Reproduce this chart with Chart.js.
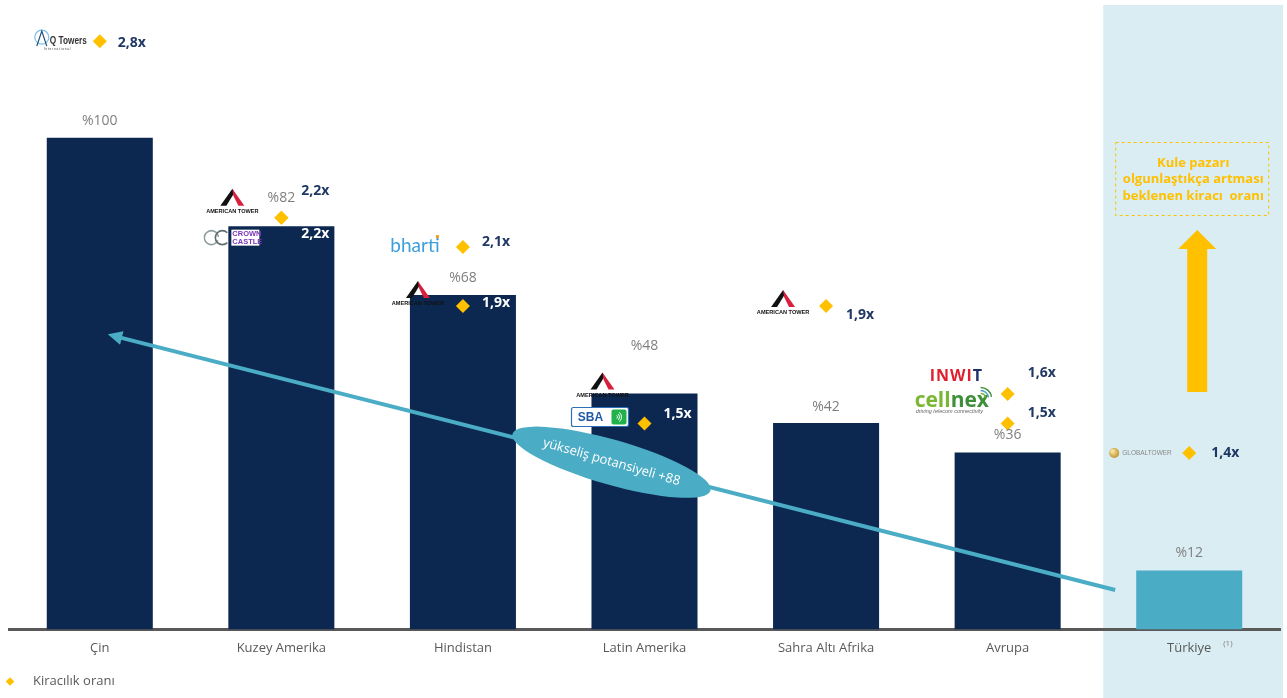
<!DOCTYPE html>
<html>
<head>
<meta charset="utf-8">
<script src="https://cdn.jsdelivr.net/npm/chart.js@4.4.1/dist/chart.umd.min.js"></script>
<style>
html, body { margin: 0; padding: 0; background: #ffffff; }
#wrap { width: 1287px; height: 698px; position: relative; }
</style>
</head>
<body>
<div id="wrap"><canvas id="chart"></canvas></div>
<script>
"use strict";

// kule pazari payi (Cin = %100)
const categories = ['Çin', 'Kuzey Amerika', 'Hindistan', 'Latin Amerika', 'Sahra Altı Afrika', 'Avrupa', 'Türkiye'];
const shareValues = [100, 82, 68, 48, 42, 36, 12];
const shareLabels = ['%100', '%82', '%68', '%48', '%42', '%36', '%12'];

// kiracilik orani per operator
const ratioRegions = ['Çin', 'Kuzey Amerika', 'Kuzey Amerika', 'Hindistan', 'Hindistan', 'Latin Amerika', 'Sahra Altı Afrika', 'Avrupa', 'Avrupa', 'Türkiye'];
const ratioValues = [2.8, 2.2, 2.2, 2.1, 1.9, 1.5, 1.9, 1.6, 1.5, 1.4];
const ratioLabels = ['2,8x', '2,2x', '2,2x', '2,1x', '1,9x', '1,5x', '1,9x', '1,6x', '1,5x', '1,4x'];

const potentialFrom = 12;
const potentialTo = 100;
const potentialText = 'yükseliş potansiyeli +88';
const noteLines = ['Kule pazarı', 'olgunlaştıkça artması', 'beklenen kiracı  oranı'];

const NAVY = '#0c2851';
const TEAL = '#4bacc6';
const GOLD = '#ffc000';
const FONT = "'Open Sans', 'Liberation Sans', sans-serif";

// label placement for each ratio point: dx, dy from the diamond, white if on a bar
const ratioLabelPlace = [
    [18, 2, false], [20, -27, false], [20, 16, true], [19, -5, false], [19, -3, true],
    [19, -10, true], [20, 9, false], [20, -21, false], [20, -11, false], [22, 0, false]
];
// offsets of the share labels above the bar tops
const shareLabelGap = [17, 28, 17, 47, 16, 17, 17];

function drawQTowers(ctx, cx, cy) {
    ctx.strokeStyle = '#7cc0e6';
    ctx.lineWidth = 1.2;
    ctx.beginPath();
    ctx.arc(cx - 19, cy - 3, 7, 0, Math.PI * 2);
    ctx.stroke();
    ctx.strokeStyle = '#1f4e79';
    ctx.beginPath();
    ctx.moveTo(cx - 24, cy + 6); ctx.lineTo(cx - 19, cy - 9); ctx.lineTo(cx - 14, cy + 6);
    ctx.stroke();
    ctx.translate(cx - 11, cy + 1);
    ctx.scale(0.75, 1);
    ctx.fillStyle = '#333333';
    ctx.font = "bold 11px 'Liberation Sans', sans-serif";
    ctx.textAlign = 'left';
    ctx.textBaseline = 'middle';
    ctx.fillText('Q Towers', 0, 0);
    ctx.font = "4px 'Liberation Sans', sans-serif";
    ctx.fillText('I n t e r n a t i o n a l', -8, 8);
}

function drawAmericanTower(ctx, cx, cy) {
    ctx.fillStyle = '#111111';
    ctx.beginPath();
    ctx.moveTo(cx - 12, cy + 8); ctx.lineTo(cx, cy - 9); ctx.lineTo(cx + 2, cy - 5); ctx.lineTo(cx - 6, cy + 8);
    ctx.closePath(); ctx.fill();
    ctx.fillStyle = '#d6203d';
    ctx.beginPath();
    ctx.moveTo(cx, cy - 9); ctx.lineTo(cx + 12, cy + 8); ctx.lineTo(cx + 6, cy + 8); ctx.lineTo(cx + 1, cy - 2);
    ctx.closePath(); ctx.fill();
    ctx.fillStyle = '#111111';
    ctx.font = "bold 5.6px 'Liberation Sans', sans-serif";
    ctx.textAlign = 'center';
    ctx.textBaseline = 'middle';
    ctx.fillText('AMERICAN TOWER', cx, cy + 14);
}

function drawCrownCastle(ctx, cx, cy) {
    ctx.lineWidth = 1.6;
    ctx.strokeStyle = '#8e9d9d';
    ctx.beginPath(); ctx.arc(cx - 20, cy, 7, 0.4, Math.PI * 2 - 0.1); ctx.stroke();
    ctx.strokeStyle = '#5f6f70';
    ctx.beginPath(); ctx.arc(cx - 9, cy, 7, Math.PI * 0.25, Math.PI * 1.75); ctx.stroke();
    ctx.fillStyle = '#ffffff';
    ctx.fillRect(cx, cy - 8, 28, 16);
    ctx.fillStyle = '#7a35b8';
    ctx.font = "bold 7.5px 'Liberation Sans', sans-serif";
    ctx.textAlign = 'left';
    ctx.textBaseline = 'middle';
    ctx.fillText('CROWN', cx + 1, cy - 3.5);
    ctx.fillText('CASTLE', cx + 1, cy + 4);
}

function drawBharti(ctx, cx, cy) {
    ctx.fillStyle = '#3c9fdc';
    ctx.font = "19px 'Lato', 'Open Sans', sans-serif";
    ctx.textAlign = 'center';
    ctx.textBaseline = 'middle';
    ctx.fillText('bharti', cx, cy);
    ctx.fillStyle = '#f39c1f';
    ctx.fillRect(cx + 21, cy - 11, 3, 3);
}

function drawSBA(ctx, cx, cy) {
    ctx.fillStyle = '#ffffff';
    ctx.strokeStyle = '#2f6fb5';
    ctx.lineWidth = 1.2;
    ctx.beginPath();
    ctx.roundRect(cx - 28, cy - 9, 57, 19, 2);
    ctx.fill(); ctx.stroke();
    ctx.fillStyle = '#1f5aa6';
    ctx.font = "bold 12px 'Liberation Sans', sans-serif";
    ctx.textAlign = 'center';
    ctx.textBaseline = 'middle';
    ctx.fillText('SBA', cx - 9, cy + 1);
    ctx.fillStyle = '#22b24c';
    ctx.beginPath();
    ctx.roundRect(cx + 12, cy - 7, 15, 15, 2);
    ctx.fill();
    ctx.strokeStyle = '#ffffff';
    ctx.lineWidth = 1;
    for (let r = 2; r <= 6; r += 2) {
        ctx.beginPath();
        ctx.arc(cx + 16, cy + 0.5, r, -0.9, 0.9);
        ctx.stroke();
    }
}

function drawInwit(ctx, cx, cy) {
    ctx.font = "bold 16px 'Open Sans', sans-serif";
    ctx.textAlign = 'left';
    ctx.textBaseline = 'middle';
    ctx.letterSpacing = '1px';
    ctx.fillStyle = '#e01f2d';
    const w = ctx.measureText('INWI').width;
    ctx.fillText('INWI', cx - 27, cy);
    ctx.fillStyle = '#1f2f6b';
    ctx.fillText('T', cx - 27 + w, cy);
}

function drawCellnex(ctx, cx, cy) {
    ctx.font = "bold 21px 'Open Sans', sans-serif";
    ctx.textAlign = 'left';
    ctx.textBaseline = 'middle';
    ctx.fillStyle = '#7ab833';
    const w = ctx.measureText('cell').width;
    ctx.fillText('cell', cx - 40, cy);
    ctx.fillStyle = '#3f8f3a';
    ctx.fillText('nex', cx - 40 + w, cy);
    ctx.lineWidth = 1.4;
    const arcs = ['#7ab833', '#45a0c8', '#3f8f3a'];
    for (let i = 0; i < 3; i++) {
        ctx.strokeStyle = arcs[i];
        ctx.beginPath();
        ctx.arc(cx + 26, cy - 2, 5 + i * 3, -Math.PI * 0.5, -Math.PI * 0.05);
        ctx.stroke();
    }
    ctx.fillStyle = '#666666';
    ctx.font = "italic 5.5px 'Liberation Sans', sans-serif";
    ctx.fillText('driving telecom connectivity', cx - 39, cy + 11);
}

function drawGlobalTower(ctx, cx, cy) {
    const g = ctx.createRadialGradient(cx - 27, cy - 2, 1, cx - 25, cy, 6);
    g.addColorStop(0, '#f7e3a0');
    g.addColorStop(1, '#b88a22');
    ctx.fillStyle = g;
    ctx.beginPath(); ctx.arc(cx - 25, cy, 5, 0, Math.PI * 2); ctx.fill();
    ctx.fillStyle = '#8a8a8a';
    ctx.font = "6.5px 'Liberation Sans', sans-serif";
    ctx.textAlign = 'left';
    ctx.textBaseline = 'middle';
    ctx.fillText('GLOBALTOWER', cx - 17, cy + 0.5);
}

// logo, ratio point it belongs to, offset from that diamond
const logos = [
    [drawQTowers, 0, -39, -1],
    [drawAmericanTower, 1, -49, -20],
    [drawCrownCastle, 2, -50, 20],
    [drawBharti, 3, -48, -1],
    [drawAmericanTower, 4, -45, -16],
    [drawAmericanTower, 5, -42, -42],
    [drawSBA, 5, -45, -7],
    [drawAmericanTower, 6, -43, -7],
    [drawInwit, 7, -51, -18],
    [drawCellnex, 8, -53, -23],
    [drawGlobalTower, 9, -50, 0]
];

const decorPlugin = {
    id: 'decor',
    afterLayout(chart) {
        // pull the legend to the left edge
        chart.legend.left = -1;
    },
    beforeDraw(chart) {
        const { ctx, scales: { x } } = chart;
        const tx = x.getPixelForValue(6);
        ctx.save();
        // Turkiye panel
        ctx.fillStyle = '#daedf3';
        ctx.fillRect(tx - 86, 5, chart.width - 4 - (tx - 86), chart.height - 5);
        ctx.restore();
    },
    beforeDatasetsDraw(chart) {
        const { ctx, scales: { x } } = chart;
        const tx = x.getPixelForValue(6);
        ctx.save();
        // note box
        ctx.setLineDash([3, 3]);
        ctx.strokeStyle = GOLD;
        ctx.lineWidth = 1;
        ctx.strokeRect(tx - 73.5, 142.5, 153, 73);
        ctx.setLineDash([]);
        ctx.fillStyle = GOLD;
        ctx.font = 'bold 13px ' + FONT;
        ctx.textAlign = 'center';
        ctx.textBaseline = 'middle';
        noteLines.forEach((l, i) => ctx.fillText(l, tx + 4, 163 + i * 16.5));
        // up arrow
        const ax = tx + 8;
        ctx.beginPath();
        ctx.moveTo(ax - 10, 392); ctx.lineTo(ax - 10, 249); ctx.lineTo(ax - 19, 249);
        ctx.lineTo(ax, 230); ctx.lineTo(ax + 19, 249); ctx.lineTo(ax + 10, 249);
        ctx.lineTo(ax + 10, 392); ctx.closePath();
        ctx.fill();
        ctx.restore();
    },
    afterDatasetsDraw(chart) {
        const { ctx, scales: { x, y } } = chart;
        const bars = chart.getDatasetMeta(1).data;
        const pts = chart.getDatasetMeta(0).data;
        ctx.save();
        // share labels
        ctx.font = '14px ' + FONT;
        ctx.fillStyle = '#7f7f7f';
        ctx.textAlign = 'center';
        ctx.textBaseline = 'middle';
        bars.forEach((b, i) => ctx.fillText(shareLabels[i], b.x, b.y - shareLabelGap[i]));

        // potential arrow
        const x0 = x.getPixelForValue(6) - 74, y0 = y.getPixelForValue(potentialFrom - 4);
        const x1 = x.getPixelForValue(0) + 8, y1 = y.getPixelForValue(potentialTo * 0.6);
        const ang = Math.atan2(y1 - y0, x1 - x0);
        ctx.strokeStyle = TEAL;
        ctx.fillStyle = TEAL;
        ctx.lineWidth = 4;
        ctx.beginPath();
        ctx.moveTo(x0, y0);
        ctx.lineTo(x1 - Math.cos(ang) * 10, y1 - Math.sin(ang) * 10);
        ctx.stroke();
        ctx.beginPath();
        ctx.moveTo(x1, y1);
        ctx.lineTo(x1 - Math.cos(ang - 0.45) * 16, y1 - Math.sin(ang - 0.45) * 16);
        ctx.lineTo(x1 - Math.cos(ang + 0.45) * 16, y1 - Math.sin(ang + 0.45) * 16);
        ctx.closePath();
        ctx.fill();
        // bubble
        const mx = (x0 + x1) / 2, my = (y0 + y1) / 2;
        const rot = ang + Math.PI + 0.03;
        ctx.beginPath();
        ctx.ellipse(mx, my, 103, 22.5, rot, 0, Math.PI * 2);
        ctx.fill();
        ctx.translate(mx, my);
        ctx.rotate(rot);
        ctx.fillStyle = '#ffffff';
        ctx.font = '13px ' + FONT;
        ctx.fillText(potentialText, 0, 0);
        ctx.setTransform(1, 0, 0, 1, 0, 0);
        ctx.restore();

        // ratio labels
        ctx.save();
        ctx.font = 'bold 14px ' + FONT;
        ctx.textAlign = 'left';
        ctx.textBaseline = 'middle';
        pts.forEach((p, i) => {
            const pl = ratioLabelPlace[i];
            ctx.fillStyle = pl[2] ? '#ffffff' : '#1f3864';
            ctx.fillText(ratioLabels[i], p.x + pl[0], p.y + pl[1]);
        });
        ctx.restore();

        // operator logos
        logos.forEach(([fn, pi, dx, dy]) => {
            ctx.save();
            fn(ctx, pts[pi].x + dx, pts[pi].y + dy);
            ctx.restore();
        });
    },
    afterDraw(chart) {
        // footnote mark next to Turkiye
        const { ctx, scales: { x } } = chart;
        ctx.save();
        ctx.font = '8px ' + FONT;
        ctx.fillStyle = '#7f7f7f';
        ctx.textAlign = 'left';
        ctx.textBaseline = 'middle';
        ctx.fillText('(1)', x.getPixelForValue(6) + 34, 644);
        ctx.restore();
    }
};

const baseLabels = Chart.defaults.plugins.legend.labels.generateLabels;

new Chart(document.getElementById('chart'), {
    data: {
        labels: categories,
        datasets: [{
            type: 'line',
            label: 'Kiracılık oranı',
            data: ratioRegions.map((r, i) => ({ x: r, y: ratioValues[i] })),
            yAxisID: 'y2',
            showLine: false,
            pointStyle: 'rectRot',
            pointRadius: 7,
            pointHoverRadius: 7,
            backgroundColor: GOLD,
            borderColor: GOLD,
            borderWidth: 0,
            clip: false,
            order: 0
        }, {
            type: 'bar',
            label: 'Kule pazarı',
            data: shareValues,
            yAxisID: 'y',
            backgroundColor: shareValues.map((v, i) => i === categories.length - 1 ? TEAL : NAVY),
            barPercentage: 0.584,
            categoryPercentage: 1,
            order: 1
        }]
    },
    options: {
        responsive: true,
        maintainAspectRatio: false,
        animation: false,
        layout: { autoPadding: false, padding: { left: 9, right: 7, top: 0, bottom: 0 } },
        scales: {
            x: {
                grid: { display: false, drawTicks: false },
                border: { display: true, color: '#595959', width: 3 },
                ticks: { color: '#595959', font: { family: FONT, size: 13 }, padding: 11, maxRotation: 0 }
            },
            y: { display: false, min: 0, max: 128 },
            y2: { display: false, min: 0.8, max: 2.94 }
        },
        plugins: {
            tooltip: { enabled: false },
            legend: {
                position: 'bottom',
                align: 'start',
                labels: {
                    filter: (item) => item.datasetIndex === 0,
                    generateLabels: (chart) => baseLabels(chart).map(l => Object.assign(l, { text: '    ' + l.text })),
                    usePointStyle: true,
                    boxWidth: 6,
                    boxHeight: 6,
                    color: '#595959',
                    font: { family: FONT, size: 13 },
                    padding: 8
                }
            }
        }
    },
    plugins: [decorPlugin]
});
</script>
</body>
</html>
